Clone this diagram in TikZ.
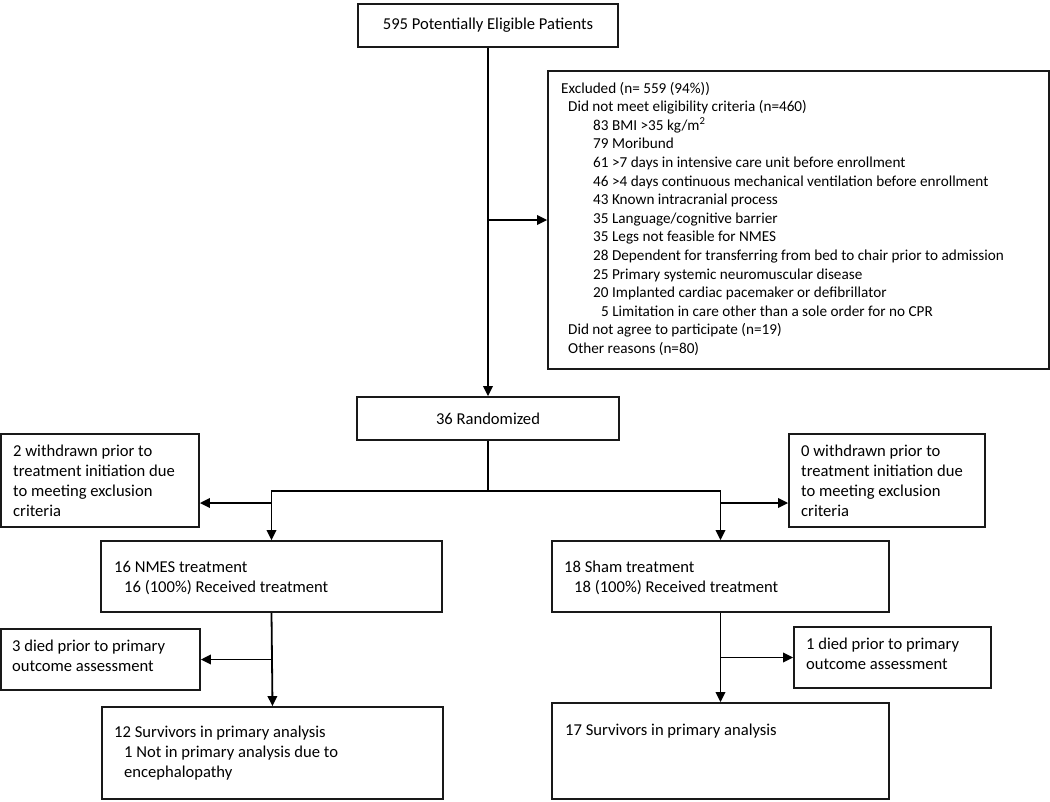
\documentclass[tikz,border=0pt]{standalone}
\usepackage{fontspec}
\setmainfont{Carlito}
\usetikzlibrary{arrows.meta}
\tikzset{
  box/.style={draw=black!90, line width=1.8pt, inner sep=0pt, rectangle},
  conn/.style={draw=black, line width=1.8pt},
  arr/.style={conn, -{Triangle[length=10pt,width=9.5pt]}},
  txt/.style={inner sep=0pt, anchor=base west, font=\fontsize{16.6}{20.3}\selectfont},
  small/.style={txt, font=\fontsize{15.2}{18.6}\selectfont},
  bigtxt/.style={font=\fontsize{16.6}{20.3}\selectfont}
}
\begin{document}
\begin{tikzpicture}[x=1pt,y=-1pt]
\useasboundingbox (0,0) rectangle (1050,801);
% boxes
\node[box, bigtxt, minimum width=260pt, minimum height=43pt] (top) at (488,25.5) {595 Potentially Eligible Patients};
\node[box, minimum width=501pt, minimum height=298pt] (excl) at (798.5,220) {};
\node[box, bigtxt, minimum width=262pt, minimum height=43pt] (rand) at (488,418.5) {36 Randomized};
\node[box, minimum width=198pt, minimum height=93pt] (wL) at (100,480.5) {};
\node[box, minimum width=196pt, minimum height=93pt] (wR) at (887,480.5) {};
\node[box, minimum width=341pt, minimum height=71pt] (nmes) at (271.5,576.5) {};
\node[box, minimum width=337pt, minimum height=71pt] (sham) at (720.5,576.5) {};
\node[box, minimum width=199pt, minimum height=61pt] (dL) at (100.5,659.5) {};
\node[box, minimum width=197pt, minimum height=61pt] (dR) at (892.5,657.5) {};
\node[box, minimum width=341pt, minimum height=92pt] (s12) at (272.5,753) {};
\node[box, minimum width=337pt, minimum height=96pt] (s17) at (720.5,751) {};
% texts
\node[small] (exclt) at (561,93) {\vtop{%
  \hbox{Excluded (n= 559 (94\%))}
  \hbox{\kern7pt Did not meet eligibility criteria (n=460)}
  \hbox{\kern32pt 83 BMI >35 kg/m\textsuperscript{2}}
  \hbox{\kern32pt 79 Moribund}
  \hbox{\kern32pt 61 >7 days in intensive care unit before enrollment}
  \hbox{\kern32pt 46 >4 days continuous mechanical ventilation before enrollment}
  \hbox{\kern32pt 43 Known intracranial process}
  \hbox{\kern32pt 35 Language/cognitive barrier}
  \hbox{\kern32pt 35 Legs not feasible for NMES}
  \hbox{\kern32pt 28 Dependent for transferring from bed to chair prior to admission}
  \hbox{\kern32pt 25 Primary systemic neuromuscular disease}
  \hbox{\kern32pt 20 Implanted cardiac pacemaker or defibrillator}
  \hbox{\kern40pt 5 Limitation in care other than a sole order for no CPR}
  \hbox{\kern7pt Did not agree to participate (n=19)}
  \hbox{\kern7pt Other reasons (n=80)}}};
\node[txt] (wLt) at (13,456) {\vtop{\hbox{2 withdrawn prior to}\hbox{treatment initiation due}\hbox{to meeting exclusion}\hbox{criteria}}};
\node[txt] (wRt) at (801,456) {\vtop{\hbox{0 withdrawn prior to}\hbox{treatment initiation due}\hbox{to meeting exclusion}\hbox{criteria}}};
\node[txt] (nmest) at (114,572) {\vtop{\hbox{16 NMES treatment}\hbox{\kern10pt 16 (100\%) Received treatment}}};
\node[txt] (shamt) at (564,572) {\vtop{\hbox{18 Sham treatment}\hbox{\kern10pt 18 (100\%) Received treatment}}};
\node[txt] (dLt) at (12,651) {\vtop{\hbox{3 died prior to primary}\hbox{outcome assessment}}};
\node[txt] (dRt) at (806,649) {\vtop{\hbox{1 died prior to primary}\hbox{outcome assessment}}};
\node[txt] (s12t) at (114,737) {\vtop{\hbox{12 Survivors in primary analysis}\hbox{\kern10pt 1 Not in primary analysis due to}\hbox{\kern10pt encephalopathy}}};
\node[txt] (s17t) at (565,735) {17 Survivors in primary analysis};
% connectors
\coordinate (split) at (488,491);
\coordinate (wy) at (0,503);
\draw[arr] (top.south) -- (rand.north);
\draw[arr] (top.south |- excl.west) -- (excl.west);
\draw[conn] (rand.south) -- (split);
\draw[arr] (split) -| (nmes.north);
\draw[arr] (split) -| (sham.north);
\draw[arr] (nmes.north |- wy) -- (wL.east |- wy);
\draw[arr] (sham.north |- wy) -- (wR.west |- wy);
\draw[arr] (nmes.south) -- (s12.north);
\draw[arr] (sham.south) -- (s17.north);
\draw[arr] (nmes.south |- dL.east) -- (dL.east);
\draw[arr] (sham.south |- dR.west) -- (dR.west);
\end{tikzpicture}
\end{document}
